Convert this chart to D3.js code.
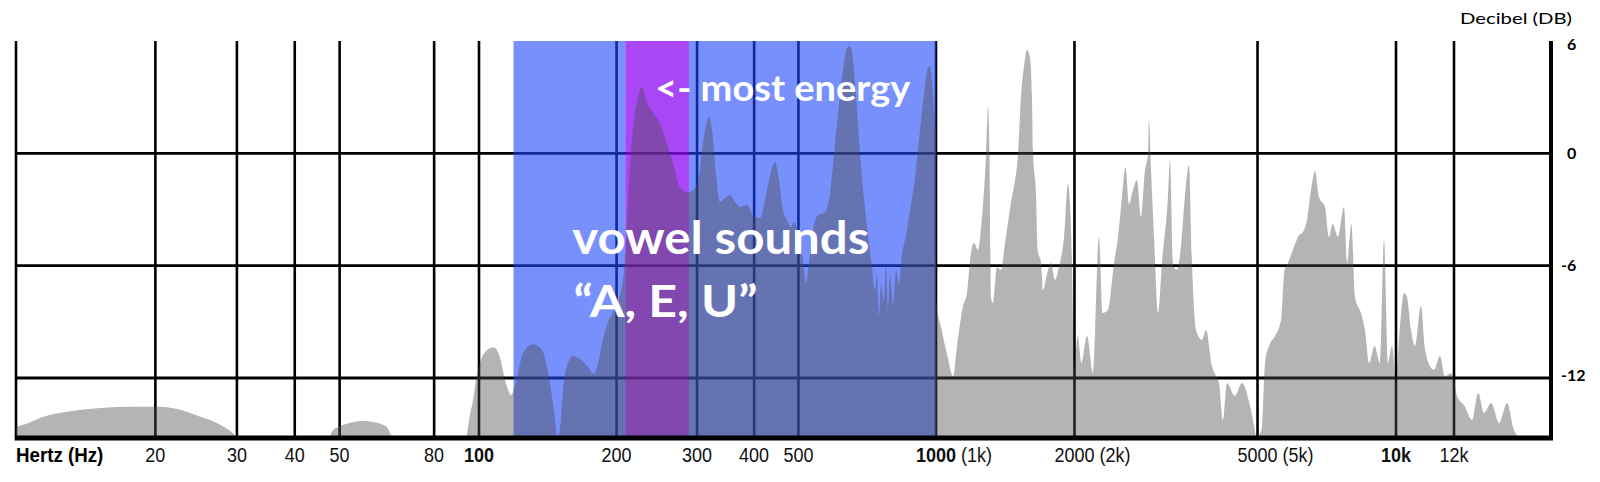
<!DOCTYPE html>
<html><head><meta charset="utf-8">
<script src="https://cdn.jsdelivr.net/npm/d3@7"></script>
<style>html,body{margin:0;padding:0;background:#fff;} svg{display:block;}</style>
</head><body><svg id="chart" width="1600" height="482"></svg>
<script>
// ---------- data ----------
const freqTicks = [20, 30, 40, 50, 80, 100, 200, 300, 400, 500, 1000, 2000, 5000, 10000, 12000];
const freqTickLabels = ["20", "30", "40", "50", "80", "100", "200", "300", "400", "500", "1000", "2000", "5000", "10k", "12k"];
const freqTickSuffixes = ["", "", "", "", "", "", "", "", "", "", "(1k)", "(2k)", "(5k)", "", ""];
const boldFreqTicks = [100, 1000, 10000];
const dbGridLines = [0, -6, -12];
const dbTicks = [6, 0, -6, -12];
const dbTickLabels = ["6", "0", "-6", "-12"];
const vowelBandHz = [119, 1000];
const energyBandHz = [209, 288];
const xAxisTitle = "Hertz (Hz)";
const yAxisTitle = "Decibel (DB)";
const annotationTexts = ["<- most energy", "vowel sounds", "\u201CA, E, U\u201D"];
const annotationHz = [243, 160, 161];
const annotationDb = [2.8, -5.38, -8.74];

const spectrumHz = [
  10, 10.5, 10.9, 11.8, 12.9, 15.2, 17.9, 20.5, 22.3, 25, 27.2, 29.4, 30,
  47.4, 48.4, 50.1, 52.7, 56.2, 60.1, 63.2, 65.2,
  93.7, 95.6, 97.1, 98.5, 100.5, 103.1, 107.8, 111.2, 114, 116.3, 117.5,
  121.1, 124.8, 131.3, 137.4, 140.9, 144.5, 146.7, 148.2, 150.4, 152.7, 156.6, 160.6, 166.3, 173.2, 178.5,
  182.2, 185.9, 190.6, 197.4, 203.5, 207.6, 210.8, 214, 218.4, 222.8, 227.3, 232, 237.9, 244, 248.9, 254,
  260.5, 267.1, 272.5, 278.1, 286.7, 294, 301.5, 307.6, 313.9, 318.7, 323.6, 330.2, 336.9, 345.4, 354.2,
  363.3, 372.5, 385.9, 397.7, 412, 422.6, 431.2, 444.4, 453.4, 462.6, 472, 481.6, 489, 498.9, 511.6, 519.4,
  527.4, 538.2, 551.9, 568.8, 583.4, 595.2, 610.4, 625.9, 638.7, 648.4, 658.3, 668.3, 682, 696, 710, 724.4,
  735.4, 742.9, 750.4, 757.9, 769.4, 777.3, 785.2, 793.2, 805.4, 817.7, 830, 842.7, 859.9, 877.3, 899.5,
  922.6, 941.3, 960.5, 970.2, 985, 995, 999,
  1001, 1029, 1059, 1089, 1111, 1145, 1168, 1186, 1209, 1234, 1259, 1285, 1298, 1307, 1317, 1330, 1357,
  1384, 1413, 1455, 1481, 1508, 1530, 1553, 1577, 1601, 1617, 1625, 1650, 1663, 1692, 1709, 1743, 1778,
  1814, 1846, 1898, 1936, 1975, 1995, 2032, 2071, 2129, 2194, 2261, 2302, 2365, 2438, 2487, 2537, 2583,
  2627, 2680, 2735, 2790, 2847, 2890, 2904, 2926, 2978, 3038, 3099, 3193, 3225, 3274, 3340, 3407, 3476,
  3548, 3601, 3674, 3786, 3864, 3981, 4062, 4123, 4206, 4291, 4460, 4627, 4816, 4928, 4963, 5101, 5191,
  5296, 5457, 5623, 5722, 5823, 6001, 6123, 6310, 6421, 6535, 6667, 6801, 7009, 7150, 7281, 7480, 7709,
  7826, 8003, 8145, 8393, 8562, 8738, 8981, 9230, 9417, 9607, 9802, 10000, 10095, 10255, 10352, 10483,
  10615, 10818, 10941, 11076, 11269, 11484, 11665, 11889, 12000, 12190, 12690, 13200, 13630, 14060,
  14590, 15220, 15870, 16430, 16870
];
const spectrumDb = [
  -14.6, -14.46, -14.28, -13.98, -13.8, -13.6, -13.53, -13.53, -13.66, -14.07, -14.41, -14.94, -15.15,
  -15.15, -14.78, -14.57, -14.39, -14.3, -14.39, -14.62, -15.15,
  -15.15, -13.98, -13.18, -12.11, -11.2, -10.61, -10.35, -10.93, -12.11, -12.75, -12.91,
  -11.95, -10.67, -10.19, -10.51, -11.41, -13.02, -14.25, -15.15, -14.78, -12.64, -11.2, -10.83, -10.99, -11.41, -11.79,
  -11.2, -10.13, -9.17, -8.37, -7.57, -6.23, -3.56, -0.62, 1.78, 3.01, 3.54, 2.85, 2.31, 1.94, 1.62, 0.98,
  0.18, -0.73, -1.59, -1.96, -2.07, -1.96, -1.59, 0.18, 1.51, 1.94, 1.25, -1.16, -2.6, -2.39, -2.23,
  -2.6, -2.87, -2.76, -3.29, -3.46, -2.49, -1.43, -0.46, -1.43, -3.03, -3.56, -3.94, -3.67, -4.2, -5.7, -6.93,
  -5.81, -4.1, -3.29, -3.19, -2.49, -0.62, 2.15, 4.45, 5.63, 5.73, 4.99, 3.01, 0, -2.49, -4.36, -6.07,
  -7.3, -6.5, -8.64, -7.03, -7.84, -5.97, -8.37, -6.5, -8.1, -6.23, -7.03, -5.43, -4.36, -3.03, -1.32,
  1.25, 3.12, 4.56, 4.66, 3.12, 1.51, 1.2,
  -7.84, -9.44, -10.83, -11.9, -10.29, -8.16, -7.46, -5.7, -4.79, -5.16, -3.4, -0.04, 2.47, -0.04, -7.68, -8.0, -6.07,
  -6.23, -4.79, -2.65, -1.64, -0.04, 3.01, 4.61, 5.52, 5.09, 3.01, 0.16, -2.33, -5.16, -5.86, -7.3, -6.45, -5.86,
  -6.77, -6.18, -4.47, -1.64, -5.86, -11.57, -9.76, -11.2, -9.76, -11.74, -4.47, -8.53, -8.37, -5.86, -4.47, -2.33, -0.73,
  -2.71, -1.96, -1.43, -3.4, -0.89, -0.04, 1.89, -0.2, -4.47, -8.53, -5.86, -2.33, -0.36, -5.86, -6.23, -5.0, -2.33,
  -0.62, -5.86, -9.44, -9.97, -9.44, -11.36, -11.9, -12.27, -14.25, -12.27, -12.96, -12.27, -13.5, -14.73, -15.15, -14.78, -11.2,
  -10.29, -9.76, -8.9, -6.23, -5.86, -5.0, -4.47, -4.1, -3.4, -1.96, -0.94, -2.33, -2.87, -4.47, -3.78, -4.47, -2.87,
  -5.86, -3.78, -7.68, -8.53, -9.44, -11.2, -10.29, -11.2, -4.63, -11.2, -10.29, -12.11, -9.97, -7.46, -7.68, -9.44,
  -10.29, -8.16, -10.29, -11.2, -11.57, -10.83, -11.9, -11.74, -12.11, -12.96, -13.5, -14.25, -12.8, -13.87,
  -13.34, -14.41, -13.34, -14.73, -15.15
];

// ---------- scales ----------
const svg = d3.select("#chart");
const x = d3.scaleLog()
  .domain([10, 100, 1000, 10000, 12000, 20000])
  .range([16, 479, 936, 1396, 1454, 1551]);
const y = d3.scaleLinear().domain([-15.15, 6]).range([437, 41]);
const xL = x(10), xR = x(20000), yB = y(-15.15), yT = y(6);

// ---------- grid ----------
const grid = svg.append("g");
grid.selectAll("line.v").data(freqTicks).join("line").attr("class", "v")
  .attr("x1", d => x(d)).attr("x2", d => x(d)).attr("y1", yT).attr("y2", yB)
  .attr("stroke", "#000").attr("stroke-width", 2.6);
grid.selectAll("line.h").data(dbGridLines).join("line").attr("class", "h")
  .attr("x1", xL).attr("x2", xR).attr("y1", d => y(d)).attr("y2", d => y(d))
  .attr("stroke", "#000").attr("stroke-width", 2.8);
grid.append("line").attr("x1", xL).attr("x2", xL).attr("y1", yT).attr("y2", yB)
  .attr("stroke", "#000").attr("stroke-width", 2.6);

// ---------- bands ----------
const blue = "rgba(30,70,248,0.6)", purple = "rgba(140,8,243,0.75)";
const bands = [
  [vowelBandHz[0], energyBandHz[0], blue],
  [energyBandHz[0], energyBandHz[1], purple],
  [energyBandHz[1], vowelBandHz[1], blue]
];
svg.append("g").selectAll("rect").data(bands).join("rect")
  .attr("x", d => x(d[0])).attr("width", d => x(d[1]) - x(d[0]))
  .attr("y", yT).attr("height", yB - yT).attr("fill", d => d[2]);

// ---------- spectrum ----------
const area = d3.area().x(d => x(d[0])).y0(yB).y1(d => y(d[1])).curve(d3.curveMonotoneX);
svg.append("path").datum(d3.zip(spectrumHz, spectrumDb)).attr("d", area)
  .attr("fill", "rgba(77,77,77,0.42)");

// ---------- axes ----------
svg.append("line").attr("x1", xL - 1.3).attr("x2", xR + 2).attr("y1", yB + 1).attr("y2", yB + 1)
  .attr("stroke", "#000").attr("stroke-width", 5);
svg.append("line").attr("x1", xR).attr("x2", xR).attr("y1", yT).attr("y2", yB + 3)
  .attr("stroke", "#000").attr("stroke-width", 4);

// x tick labels
const lab = svg.append("g").attr("font-family", "'Liberation Sans', Arial, sans-serif")
  .attr("font-size", 18).attr("fill", "#111");
freqTicks.forEach((f, i) => {
  const t = lab.append("text").attr("y", 0);
  const num = t.append("tspan").text(freqTickLabels[i])
    .attr("font-weight", boldFreqTicks.includes(f) ? "bold" : "normal");
  if (freqTickSuffixes[i]) t.append("tspan").text(" " + freqTickSuffixes[i]);
  const w = num.node().getComputedTextLength();
  t.attr("transform", `translate(${x(f) - w / 2},462) scale(1,1.1)`);
});
lab.append("text").attr("transform", `translate(${xL},462) scale(1.04,1.1)`)
  .attr("font-weight", "bold").attr("fill", "#000").text(xAxisTitle);

// y tick labels
const ylab = svg.append("g").attr("font-family", "Lato, 'Open Sans', sans-serif")
  .attr("font-size", 16).attr("font-weight", "bold").attr("fill", "#000");
dbTicks.forEach((v, i) => {
  ylab.append("text").attr("x", xR + 16 - (v < 0 ? 6 : 0))
    .attr("y", y(v) + (v === 6 ? 3 : 0) - (v === -12 ? 3 : 0))
    .attr("dy", "0.36em").text(dbTickLabels[i]);
});
svg.append("text").attr("x", 1572).attr("y", 24).attr("text-anchor", "end")
  .attr("font-family", "Lato, 'Open Sans', sans-serif").attr("font-size", 16)
  .attr("textLength", 112).attr("lengthAdjust", "spacingAndGlyphs")
  .text(yAxisTitle);

// ---------- annotations ----------
const annSizes = [36, 46, 44];
const annWidths = [255, 297, 184];
annotationTexts.forEach((s, i) => {
  svg.append("text").attr("x", x(annotationHz[i])).attr("y", y(annotationDb[i]))
    .attr("font-family", "Lato, 'Open Sans', sans-serif").attr("font-weight", "bold")
    .attr("font-size", annSizes[i]).attr("fill", "#fff")
    .attr("textLength", annWidths[i]).attr("lengthAdjust", "spacingAndGlyphs")
    .text(s);
});
</script>
</body></html>
